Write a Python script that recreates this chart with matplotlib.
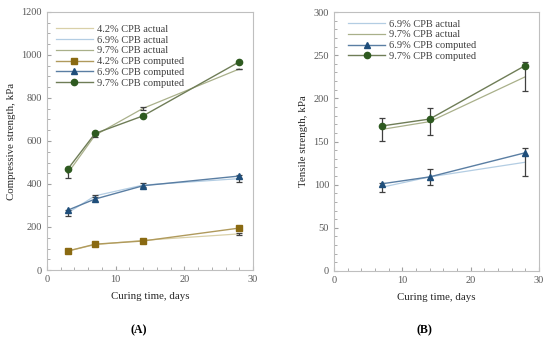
import numpy as np
import matplotlib
matplotlib.use('Agg')
import matplotlib.pyplot as plt
from matplotlib.ticker import MultipleLocator

plt.rcParams['font.family'] = ['Liberation Serif', 'DejaVu Serif']

# Painel A - resistencia a compressao
days_a = [3, 7, 14, 28]
comp_42_actual = [88, 118, 138, 168]
comp_69_actual = [265, 345, 395, 425]
comp_97_actual = [449, 627, 752, 935]
comp_42_err = [4, 4, 4, 6]
comp_69_err = [15, 5, 10, 15]
comp_97_err = [21, 7, 7, 2]
comp_42_pred = [88, 120, 135, 195]
comp_69_pred = [278, 330, 392, 437]
comp_97_pred = [468, 635, 717, 968]

# Painel B - resistencia a tracao
days_b = [7, 14, 28]
tens_69_actual = [97, 109, 126]
tens_97_actual = [164, 173, 225]
tens_69_err = [5, 9, 16]
tens_97_err = [13, 16, 17]
tens_69_pred = [101, 109, 137]
tens_97_pred = [168, 176, 238]

c42_act, c69_act, c97_act = '#d9d0a8', '#b3cde3', '#a9b08a'
c42_line, c69_line, c97_line = '#b09a5c', '#5a7ea3', '#6f7d57'
c42_mk, c69_mk, c97_mk = '#8a6a12', '#1f4e7a', '#2e5a20'

fig = plt.figure(figsize=(5.5, 3.41), dpi=100)
ax1 = fig.add_axes([47/550, 1-270/341, 206/550, 258/341])
ax2 = fig.add_axes([334/550, 1-271/341, 205/550, 259/341])


def style(ax):
    for s in ax.spines.values():
        s.set_color('#bfbfbf')
        s.set_linewidth(0.8)
    ax.tick_params(which='both', direction='in', colors='#a0a0a0',
                   labelcolor='#595959', labelsize=7.5)
    ax.tick_params(which='major', length=3)
    ax.tick_params(which='minor', length=2)
    ax.xaxis.set_minor_locator(MultipleLocator(2))


def actual(ax, x, y, err, color, label):
    ax.plot(x, y, color=color, lw=0.9, label=label)
    ax.errorbar(x, y, yerr=err, fmt='none', ecolor='#404040',
                elinewidth=0.9, capsize=2.5, capthick=0.9)


def computed(ax, x, y, line, mk, marker, label):
    ax.plot(x, y, color=line, lw=1.0, marker=marker, markersize=4.5,
            markerfacecolor=mk, markeredgecolor=mk, label=label)


def legend(ax, anchor):
    ax.legend(loc='upper left', frameon=False, fontsize=7.5, handlelength=3.5,
              borderaxespad=0, borderpad=0, labelspacing=0.15,
              handletextpad=0.4, labelcolor='#404040', bbox_to_anchor=anchor)


actual(ax1, days_a, comp_42_actual, comp_42_err, c42_act, '4.2% CPB actual')
actual(ax1, days_a, comp_69_actual, comp_69_err, c69_act, '6.9% CPB actual')
actual(ax1, days_a, comp_97_actual, comp_97_err, c97_act, '9.7% CPB actual')
computed(ax1, days_a, comp_42_pred, c42_line, c42_mk, 's', '4.2% CPB computed')
computed(ax1, days_a, comp_69_pred, c69_line, c69_mk, '^', '6.9% CPB computed')
computed(ax1, days_a, comp_97_pred, c97_line, c97_mk, 'o', '9.7% CPB computed')
ax1.set_xlim(0, 30)
ax1.set_ylim(0, 1200)
ax1.xaxis.set_major_locator(MultipleLocator(10))
ax1.yaxis.set_major_locator(MultipleLocator(200))
ax1.yaxis.set_minor_locator(MultipleLocator(50))
style(ax1)
ax1.set_xlabel('Curing time, days', fontsize=7.8, color='#262626', labelpad=6)
ax1.set_ylabel('Compressive strength, kPa', fontsize=7.8, color='#262626', labelpad=4)
legend(ax1, (0.045, 0.952))

actual(ax2, days_b, tens_69_actual, tens_69_err, c69_act, '6.9% CPB actual')
actual(ax2, days_b, tens_97_actual, tens_97_err, c97_act, '9.7% CPB actual')
computed(ax2, days_b, tens_69_pred, c69_line, c69_mk, '^', '6.9% CPB computed')
computed(ax2, days_b, tens_97_pred, c97_line, c97_mk, 'o', '9.7% CPB computed')
ax2.set_xlim(0, 30)
ax2.set_ylim(0, 300)
ax2.xaxis.set_major_locator(MultipleLocator(10))
ax2.yaxis.set_major_locator(MultipleLocator(50))
ax2.yaxis.set_minor_locator(MultipleLocator(10))
style(ax2)
ax2.set_xlabel('Curing time, days', fontsize=7.8, color='#262626', labelpad=6)
ax2.set_ylabel('Tensile strength, kPa', fontsize=7.8, color='#262626', labelpad=4)
legend(ax2, (0.07, 0.972))

fig.text(139/550, 1-330/341, '(A)', fontsize=8.5, fontweight='bold', ha='center', va='center')
fig.text(424/550, 1-330/341, '(B)', fontsize=8.5, fontweight='bold', ha='center', va='center')

fig.savefig('out.png', dpi=100, facecolor='white')
